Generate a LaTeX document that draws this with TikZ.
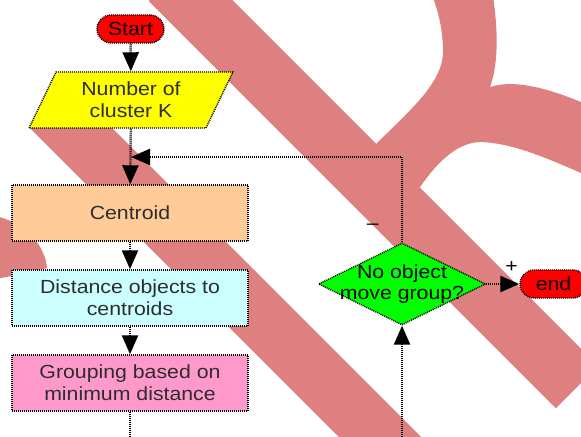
\documentclass[tikz,border=0pt]{standalone}
\usepackage{fontspec}
\setmainfont{Liberation Sans}[FakeStretch=1.12]
\usepackage{tikz}
\usetikzlibrary{shapes.geometric, arrows.meta, positioning}

\definecolor{stopred}{RGB}{255,0,0}
\definecolor{inputyellow}{RGB}{255,255,0}
\definecolor{centpeach}{RGB}{255,204,153}
\definecolor{distcyan}{RGB}{204,255,255}
\definecolor{grouppink}{RGB}{255,153,204}
\definecolor{checkgreen}{RGB}{0,255,0}
\definecolor{markred}{RGB}{222,128,128}
\definecolor{boxtext}{RGB}{45,45,45}

\tikzset{
  boxline/.style={draw=black, line width=0.7pt, dash pattern=on 0.5pt off 0.5pt},
  terminal/.style={
    rectangle, rounded corners=7pt, minimum width=33.5pt, minimum height=14pt,
    inner sep=0pt, boxline, fill=stopred, text=black
  },
  inputbox/.style={
    trapezium, trapezium left angle=63.4, trapezium right angle=116.6,
    trapezium stretches=true, minimum width=102pt, minimum height=28pt,
    inner sep=0pt, boxline, fill=inputyellow, text=boxtext, align=center
  },
  process/.style={
    rectangle, minimum width=118pt, minimum height=28pt,
    inner sep=0pt, boxline, text=boxtext, align=center
  },
  decision/.style={
    diamond, minimum width=83.5pt, minimum height=41pt,
    inner sep=0pt, boxline, fill=checkgreen
  },
  arrow/.style={-{Triangle[length=9.5pt, width=8pt]}, line width=1.2pt,
    dash pattern=on 0.5pt off 0.5pt, color=black},
  plain/.style={line width=1.2pt, dash pattern=on 0.5pt off 0.5pt, color=black},
  sign/.style={inner sep=0pt, text=black}
}

\begin{document}
\begin{tikzpicture}[x=0.5pt, y=-0.5pt, font={\fontsize{9.5}{10.8}\selectfont}]
  \useasboundingbox (0,0) rectangle (581,437);
  \clip (0,0) rectangle (581,437);
  \fill[white] (0,0) rectangle (581,437);

  % Watermark
  \begin{scope}[markred]
    \draw[line width=30pt] (170,-20) -- (577,387);
    \draw[line width=29pt] (50,107) -- (420,477);
    \fill (372,148) .. controls (410,110) and (445,82) .. (443,48)
      .. controls (442,25) and (438,10) .. (430,-10)
      -- (492,-10) .. controls (497,20) and (500,60) .. (490,87)
      .. controls (515,79) and (550,88) .. (595,108)
      -- (595,178) -- (581,173)
      .. controls (540,155) and (510,143) .. (480,142)
      .. controls (455,143) and (435,165) .. (418,190)
      -- cycle;
    \fill (-5,216) .. controls (25,222) and (45,245) .. (47,268) -- (12,276) -- (-5,279) -- cycle;
  \end{scope}

  % Flow
  \node[terminal] (start) at (130.5,29) {Start};
  \node[inputbox] (k) at (131,100) {Number of\\cluster K};
  \node[process, fill=centpeach] (cent) at (130,213) {Centroid};
  \node[process, fill=distcyan] (dist) at (130,298) {Distance objects to\\centroids};
  \node[process, fill=grouppink] (group) at (130,383) {Grouping based on\\minimum distance};
  \node[decision, label={[align=center, text=black]center:{No object\\move group?}}] (check) at (402,284) {};
  \node[terminal] (finish) at (553.5,284) {end};

  \coordinate (loop) at (130,157);
  \coordinate (out) at (130,445);
  \coordinate (in) at (402,445);

  % Connectors
  \draw[arrow] (start) -- (k);
  \draw[arrow] (k) -- (cent);
  \draw[arrow] (cent) -- (dist);
  \draw[arrow] (dist) -- (group);
  \draw[plain] (group) -- (out);
  \draw[arrow] (in) -- (check);
  \draw[arrow, shorten >=0.5pt] (check) |- (loop)
    node[pos=0.09, sign, left=11pt] {\textendash};
  \draw[arrow] (check) -- (finish)
    node[pos=0.77, sign, above=5pt] {+};
\end{tikzpicture}
\end{document}
